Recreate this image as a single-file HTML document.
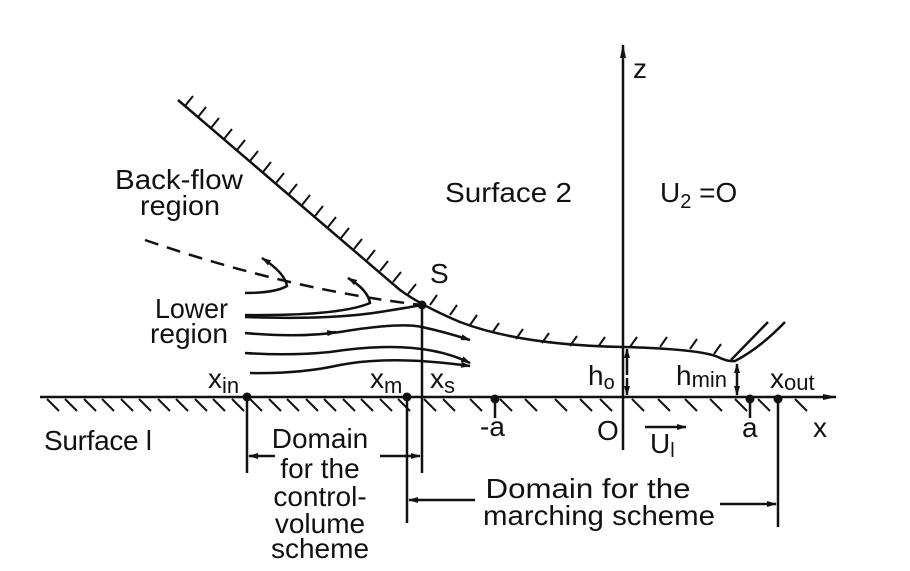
<!DOCTYPE html>
<html><head><style>
html,body{margin:0;padding:0;background:#fff;}
svg{display:block;}
text{font-family:"Liberation Sans",sans-serif;fill:#111;}
</style></head><body>
<svg width="910" height="571" viewBox="0 0 910 571" xmlns="http://www.w3.org/2000/svg">
<defs>
<marker id="ah" markerWidth="10" markerHeight="8" refX="9" refY="4" orient="auto" markerUnits="userSpaceOnUse">
<path d="M0,1 L10,4 L0,7 z" fill="#111"/></marker>
<marker id="ahs" markerWidth="14" markerHeight="8" refX="13" refY="4" orient="auto" markerUnits="userSpaceOnUse">
<path d="M0,1 L14,4 L0,7 z" fill="#111"/></marker>
</defs>
<g stroke="#111" stroke-width="2.5" fill="none">
<line x1="40" y1="397" x2="836" y2="397" marker-end="url(#ahs)"/>
<path d="M47,399 l12,12 M65,399 l12,12 M84,399 l12,12 M102,399 l12,12 M121,399 l12,12 M139,399 l12,12 M158,399 l12,12 M176,399 l12,12 M195,399 l12,12 M213,399 l12,12 M232,399 l12,12 M250,399 l12,12 M269,399 l12,12 M287,399 l12,12 M306,399 l12,12 M324,399 l12,12 M343,399 l12,12 M361,399 l12,12 M380,399 l12,12 M398,399 l12,12 M424,399 l12,12 M443,399 l12,12 M470,399 l12,12 M500,399 l12,12 M525,399 l12,12 M555,399 l12,12 M580,399 l12,12 M600,399 l12,12 M632,399 l12,12 M658,399 l12,12 M685,399 l12,12 M710,399 l12,12 M735,399 l12,12 M758,399 l12,12 M795,399 l12,12" stroke-width="2"/>
<line x1="623" y1="450" x2="623" y2="45" marker-end="url(#ahs)"/>
<path d="M178,100 L400,290 Q422,306 460,322 Q520,345 623,347 Q700,349 718,357 Q728,362 735,361 Q760,348 785,322"/>
<line x1="731" y1="360" x2="768" y2="322"/>
<path d="M185,106 l8,-10 M198,117 l8,-10 M211,128 l8,-10 M224,139 l8,-10 M237,150 l8,-10 M250,161 l8,-10 M263,172 l8,-10 M276,183 l8,-10 M289,194 l8,-10 M302,205 l8,-10 M315,216 l8,-10 M328,227 l8,-10 M341,238 l8,-10 M354,249 l8,-10 M367,260 l8,-10 M380,271 l8,-10 M393,282 l8,-10 M408,294 l8,-10 M430,305 l7,-10 M450,315 l7,-10 M470,325 l7,-10 M492,333 l7,-10 M516,339 l7,-10 M542,343 l7,-10 M570,346 l7,-10 M598,347 l7,-10 M630,347 l7,-10 M660,347 l7,-10 M690,349 l7,-10 M714,354 l7,-10" stroke-width="2"/>
<path d="M145,240 Q290,290 422,305" stroke-dasharray="14,9"/>
<line x1="422" y1="305" x2="422" y2="473"/>
<path d="M245,293 Q275,293 287,286 Q285,273 262,258" marker-end="url(#ah)"/>
<path d="M245,315 Q340,316 370,303 Q368,290 348,278" marker-end="url(#ah)"/>
<path d="M245,317 Q330,320 380,312 Q405,308 422,305"/>
<path d="M245,333 Q300,338 340,332 Q400,322 422,327 Q445,332 470,340" marker-end="url(#ah)"/>
<line x1="328" y1="333" x2="336" y2="332" marker-end="url(#ah)"/>
<path d="M245,353 Q290,356 330,352 Q420,338 470,363" marker-end="url(#ah)"/>
<path d="M250,373 Q300,374 340,365 Q390,355 470,366" marker-end="url(#ah)"/>
<line x1="247" y1="397" x2="247" y2="473"/>
<line x1="407" y1="397" x2="407" y2="523"/>
<line x1="778" y1="397" x2="778" y2="527"/>
<line x1="495" y1="399" x2="495" y2="418"/>
<line x1="750" y1="399" x2="750" y2="418"/>
<line x1="275" y1="456" x2="249" y2="456" marker-end="url(#ah)"/>
<line x1="380" y1="456" x2="420" y2="456" marker-end="url(#ah)"/>
<line x1="475" y1="500" x2="409" y2="500" marker-end="url(#ah)"/>
<line x1="720" y1="504" x2="776" y2="504" marker-end="url(#ah)"/>
<line x1="627" y1="375" x2="627" y2="349" marker-end="url(#ah)"/>
<line x1="627" y1="378" x2="627" y2="395" marker-end="url(#ah)"/>
<line x1="737" y1="380" x2="737" y2="364" marker-end="url(#ah)"/>
<line x1="737" y1="380" x2="737" y2="395" marker-end="url(#ah)"/>
<line x1="645" y1="427" x2="686" y2="427" marker-end="url(#ah)"/>
</g>
<g fill="#111">
<circle cx="422" cy="305" r="4.5"/>
<circle cx="247" cy="397" r="4.5"/>
<circle cx="407" cy="397" r="4.5"/>
<circle cx="495" cy="399" r="4.5"/>
<circle cx="750" cy="399" r="4.5"/>
<circle cx="778" cy="399" r="4.5"/>
</g>
<g font-size="28">
<text x="633" y="78">z</text>
<text x="445" y="202" textLength="127" lengthAdjust="spacingAndGlyphs">Surface 2</text>
<text x="660" y="202">U<tspan font-size="20" dy="6">2</tspan><tspan dy="-6"> =O</tspan></text>
<text x="115" y="189" textLength="128" lengthAdjust="spacingAndGlyphs">Back-flow</text>
<text x="140" y="215" textLength="80" lengthAdjust="spacingAndGlyphs">region</text>
<text x="430" y="283">S</text>
<text x="155" y="318" textLength="73" lengthAdjust="spacingAndGlyphs">Lower</text>
<text x="150" y="343" textLength="78" lengthAdjust="spacingAndGlyphs">region</text>
<text x="208" y="388">x<tspan font-size="22" dy="5">in</tspan></text>
<text x="370" y="388">x<tspan font-size="22" dy="5">m</tspan></text>
<text x="430" y="388">x<tspan font-size="22" dy="5">s</tspan></text>
<text x="588" y="385">h<tspan font-size="20" dy="4">o</tspan></text>
<text x="676" y="385">h<tspan font-size="22" dy="2">min</tspan></text>
<text x="770" y="388">x<tspan font-size="22" dy="2">out</tspan></text>
<text x="44" y="450" textLength="108" lengthAdjust="spacing">Surface  l</text>
<text x="480" y="436">-a</text>
<text x="597" y="440">O</text>
<text x="650" y="453">U<tspan font-size="20" dy="4">l</tspan></text>
<text x="742" y="437">a</text>
<text x="813" y="437">x</text>
</g>
<g font-size="28" text-anchor="middle">
<text x="320" y="448">Domain</text>
<text x="320" y="478">for the</text>
<text x="320" y="506">control-</text>
<text x="320" y="533">volume</text>
<text x="320" y="558">scheme</text>
<text x="588" y="498" textLength="205" lengthAdjust="spacingAndGlyphs">Domain for the</text>
<text x="599" y="525" textLength="232" lengthAdjust="spacingAndGlyphs">marching scheme</text>
</g>
</svg>
</body></html>
